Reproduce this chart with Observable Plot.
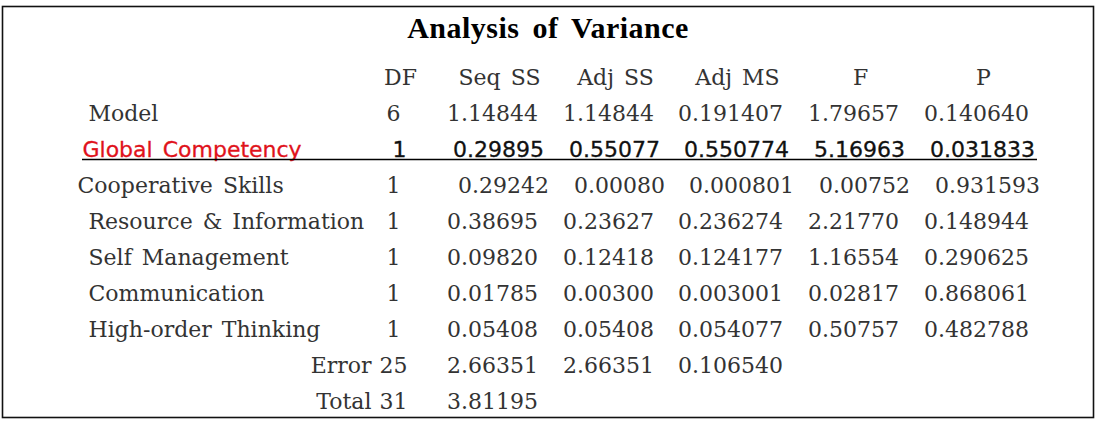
<!DOCTYPE html>
<html>
<head>
<meta charset="utf-8">
<script src="https://cdn.jsdelivr.net/npm/d3@7"></script>
<script src="https://cdn.jsdelivr.net/npm/@observablehq/plot@0.6"></script>
<style>
  html, body { margin: 0; padding: 0; background: #fff; }
  svg text { word-spacing: 3px; }
  svg g[font-weight="bold"] text { letter-spacing: 0.5px; word-spacing: 5px; }
</style>
</head>
<body>
<div id="chart"></div>
<script>
// ---- data ----
const titleText = "Analysis of Variance";
const columns = ["DF", "Seq SS", "Adj SS", "Adj MS", "F", "P"];
const sources = ["Model", "Global Competency", "Cooperative Skills", "Resource & Information",
  "Self Management", "Communication", "High-order Thinking", "Error", "Total"];
const df     = [6, 1, 1, 1, 1, 1, 1, 25, 31];
const seqSS  = [1.14844, 0.29895, 0.29242, 0.38695, 0.09820, 0.01785, 0.05408, 2.66351, 3.81195];
const adjSS  = [1.14844, 0.55077, 0.00080, 0.23627, 0.12418, 0.00300, 0.05408, 2.66351, null];
const adjMS  = [0.191407, 0.550774, 0.000801, 0.236274, 0.124177, 0.003001, 0.054077, 0.106540, null];
const fValue = [1.79657, 5.16963, 0.00752, 2.21770, 1.16554, 0.02817, 0.50757, null, null];
const pValue = [0.140640, 0.031833, 0.931593, 0.148944, 0.290625, 0.868061, 0.482788, null, null];
const highlighted = "Global Competency";

// ---- build table ----
const series = [df, seqSS, adjSS, adjMS, fValue, pValue];
const decimals = [0, 5, 5, 6, 5, 6];
const cells = sources.flatMap((s, i) => series.map((arr, j) => ({
  source: s, col: j + 1, value: arr[i],
  text: arr[i] == null ? null : arr[i].toFixed(decimals[j])
}))).filter(d => d.value != null);
const headers = columns.map((c, j) => ({name: c, col: j + 1}));
const footerRows = ["Error", "Total"];
const plainLabels = sources.filter(s => s !== highlighted && s !== "Cooperative Skills" && !footerRows.includes(s));

const serif = "DejaVu Serif";
const sans = "DejaVu Sans";
const ink = "#333";
const red = "#e0121b";
const fs = 22;

const chart = Plot.plot({
  width: 1104,
  height: 426,
  marginLeft: 2, marginRight: 11, marginTop: 6, marginBottom: 9,
  x: {type: "linear", axis: null,
      domain: [-1, 0, 1, 2, 3, 4, 5, 6, 7],
      range: [82, 88, 393, 492, 608, 730, 853, 976, 1037]},
  y: {type: "point", axis: null, padding: 0,
      domain: ["header", ...sources], range: [82, 410]},
  marks: [
    Plot.frame({stroke: "#111", strokeWidth: 1.6}),
    Plot.text([titleText], {text: d => d, frameAnchor: "top", lineAnchor: "bottom", dy: 31,
      fontFamily: "Liberation Serif", fontWeight: "bold", fontSize: 30, fill: "#000"}),
    Plot.text(headers, {x: "col", y: () => "header", text: "name", dx: 7, lineAnchor: "bottom",
      fontFamily: serif, fontSize: fs, fill: ink}),
    Plot.text(plainLabels, {x: () => 0, y: d => d, text: d => d, textAnchor: "start", lineAnchor: "bottom",
      fontFamily: serif, fontSize: fs, fill: ink}),
    Plot.text(["Cooperative Skills"], {x: () => 0, y: d => d, text: d => d, dx: -11, textAnchor: "start", lineAnchor: "bottom",
      fontFamily: serif, fontSize: fs, fill: ink}),
    Plot.text(footerRows, {x: () => 1, y: d => d, text: d => d, dx: -22, textAnchor: "end", lineAnchor: "bottom",
      fontFamily: serif, fontSize: fs, fill: ink}),
    Plot.text([highlighted], {x: () => -1, y: d => d, text: d => d, textAnchor: "start", lineAnchor: "bottom",
      fontFamily: sans, fontSize: fs, fill: red, stroke: red, strokeWidth: 0.3}),
    Plot.text(cells.filter(d => d.source !== highlighted && !(d.source === "Cooperative Skills" && d.col > 1)),
      {x: "col", y: "source", text: "text", lineAnchor: "bottom", fontFamily: serif, fontSize: fs, fill: ink}),
    Plot.text(cells.filter(d => d.source === "Cooperative Skills" && d.col > 1),
      {x: "col", y: "source", text: "text", dx: 11, lineAnchor: "bottom", fontFamily: serif, fontSize: fs, fill: ink}),
    Plot.text(cells.filter(d => d.source === highlighted),
      {x: "col", y: "source", text: "text", dx: 6, lineAnchor: "bottom", fontFamily: sans, fontSize: fs,
       fill: "#111", stroke: "#111", strokeWidth: 0.3}),
    Plot.ruleY([highlighted], {y: d => d, x1: () => -1, x2: () => 7, dy: 3, stroke: "#000", strokeWidth: 1.5})
  ]
});
document.getElementById("chart").append(chart);
</script>
</body>
</html>
